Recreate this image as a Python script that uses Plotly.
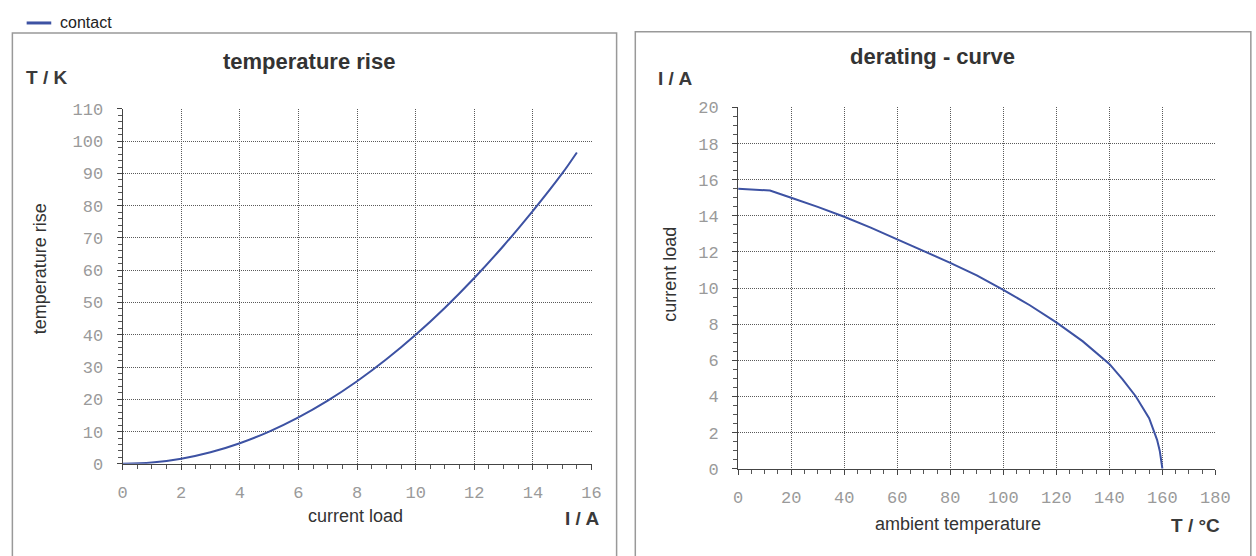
import plotly.graph_objects as go

# ---- data ----
load_current = [0, 1, 2, 3, 4, 5, 6, 7, 8, 9, 10, 11, 12, 13, 14, 15, 15.5]
temp_rise = [0, 0.4, 1.6, 3.6, 6.4, 10.0, 14.4, 19.6, 25.6, 32.4, 40.0, 48.4, 57.6, 67.6, 78.4, 90.0, 96.5]

ambient_temp = [0, 12, 20, 30, 40, 50, 60, 70, 80, 90, 100, 110, 120, 130, 140, 145, 150, 155, 158, 159, 160]
current_load = [15.5, 15.4, 15.0, 14.5, 13.95, 13.35, 12.7, 12.05, 11.4, 10.7, 9.9, 9.05, 8.1, 7.05, 5.8,
                4.95, 4.0, 2.8, 1.6, 1.0, 0]

W, H = 1256, 556
line_color = "#3d52a3"
tick_font = dict(family="Liberation Mono, Courier New, monospace", size=17, color="#9a9a9a")
grid = dict(showgrid=True, gridcolor="#5a5a5a", griddash="1px,1px", gridwidth=1)
axline = dict(showline=True, linecolor="#444444", linewidth=1, ticks="outside",
              tickcolor="#444444", ticklen=5, zeroline=False, tickfont=tick_font)


def px(x):
    return x / W


def py(y):
    return 1 - y / H


fig = go.Figure()
fig.add_trace(go.Scatter(x=load_current, y=temp_rise, mode="lines", name="contact",
                         line=dict(color=line_color, width=2, shape="spline"),
                         xaxis="x", yaxis="y", showlegend=False))
fig.add_trace(go.Scatter(x=ambient_temp, y=current_load, mode="lines", name="contact",
                         line=dict(color=line_color, width=2),
                         xaxis="x2", yaxis="y2", showlegend=False))

minor_common = dict(ticks="outside", ticklen=4, tickcolor="#555555", showgrid=False)

fig.update_layout(
    width=W, height=H, margin=dict(l=0, r=0, t=0, b=0),
    paper_bgcolor="white", plot_bgcolor="white",
    showlegend=False,
    xaxis=dict(domain=[px(119.5), px(596)], range=[0, 16], dtick=2, anchor="y",
               minor=dict(dtick=0.5, **minor_common),
               ticklabelstandoff=8, **grid, **axline),
    yaxis=dict(domain=[py(472), py(104.5)], range=[0, 110], dtick=10, anchor="x",
               minor=dict(dtick=2, **minor_common),
               ticklabelstandoff=10, **grid, **axline),
    xaxis2=dict(domain=[px(745), px(1230)], range=[0, 180], dtick=20, anchor="y2",
                minor=dict(dtick=5, **minor_common),
                ticklabelstandoff=8, **grid, **axline),
    yaxis2=dict(domain=[py(477), py(103)], range=[0, 20], dtick=2, anchor="x2",
                minor=dict(dtick=0.5, **minor_common),
                ticklabelstandoff=10, **grid, **axline),
)

# panel frames
for x0, x1, y0 in [(7.5, 621.5, 26), (640.5, 1266, 24.5)]:
    fig.add_shape(type="rect", xref="paper", yref="paper",
                  x0=px(x0), x1=px(x1), y0=py(y0), y1=py(H + 40),
                  line=dict(color="#999999", width=1.5), fillcolor="rgba(0,0,0,0)", layer="below")

# legend replica (line + text)
fig.add_shape(type="line", xref="paper", yref="paper", x0=px(22), x1=px(47), y0=py(15.5), y1=py(15.5),
              line=dict(color=line_color, width=3))

label_font = dict(family="Liberation Sans, Arial, sans-serif", size=18, color="#333333")
bold_font = dict(family="Liberation Sans, Arial, sans-serif", size=19, color="#3a3a3a")
title_font = dict(family="Liberation Sans, Arial, sans-serif", size=22, color="#333333")

annotations = [
    dict(text="contact", x=px(54), y=py(15.5), xanchor="left", yanchor="middle",
         font=dict(family="Liberation Sans, Arial, sans-serif", size=16, color="#222222")),
    dict(text="<b>temperature rise</b>", x=px(308.5), y=py(55), xanchor="center", yanchor="middle", font=title_font),
    dict(text="<b>T / K</b>", x=px(19), y=py(72), xanchor="left", yanchor="middle", font=bold_font),
    dict(text="temperature rise", x=px(35), y=py(270), xanchor="center", yanchor="middle",
         textangle=-90, font=label_font),
    dict(text="current load", x=px(356), y=py(526), xanchor="center", yanchor="middle", font=label_font),
    dict(text="<b>I / A</b>", x=px(606), y=py(529), xanchor="right", yanchor="middle", font=bold_font),
    dict(text="<b>derating - curve</b>", x=px(943), y=py(50), xanchor="center", yanchor="middle", font=title_font),
    dict(text="<b>I / A</b>", x=px(662), y=py(73), xanchor="left", yanchor="middle", font=bold_font),
    dict(text="current load", x=px(675), y=py(276), xanchor="center", yanchor="middle",
         textangle=-90, font=label_font),
    dict(text="ambient temperature", x=px(968), y=py(534), xanchor="center", yanchor="middle", font=label_font),
    dict(text="<b>T / °C</b>", x=px(1237), y=py(536), xanchor="right", yanchor="middle", font=bold_font),
]
for a in annotations:
    a.update(xref="paper", yref="paper", showarrow=False)
    fig.add_annotation(**a)

fig.write_html(
    "out.html",
    config={"displayModeBar": False},
    post_script=(
        "document.documentElement.style.margin='0';"
        "document.documentElement.style.overflow='hidden';"
        "document.body.style.margin='0';"
        "document.body.style.overflow='hidden';"
    ),
)
